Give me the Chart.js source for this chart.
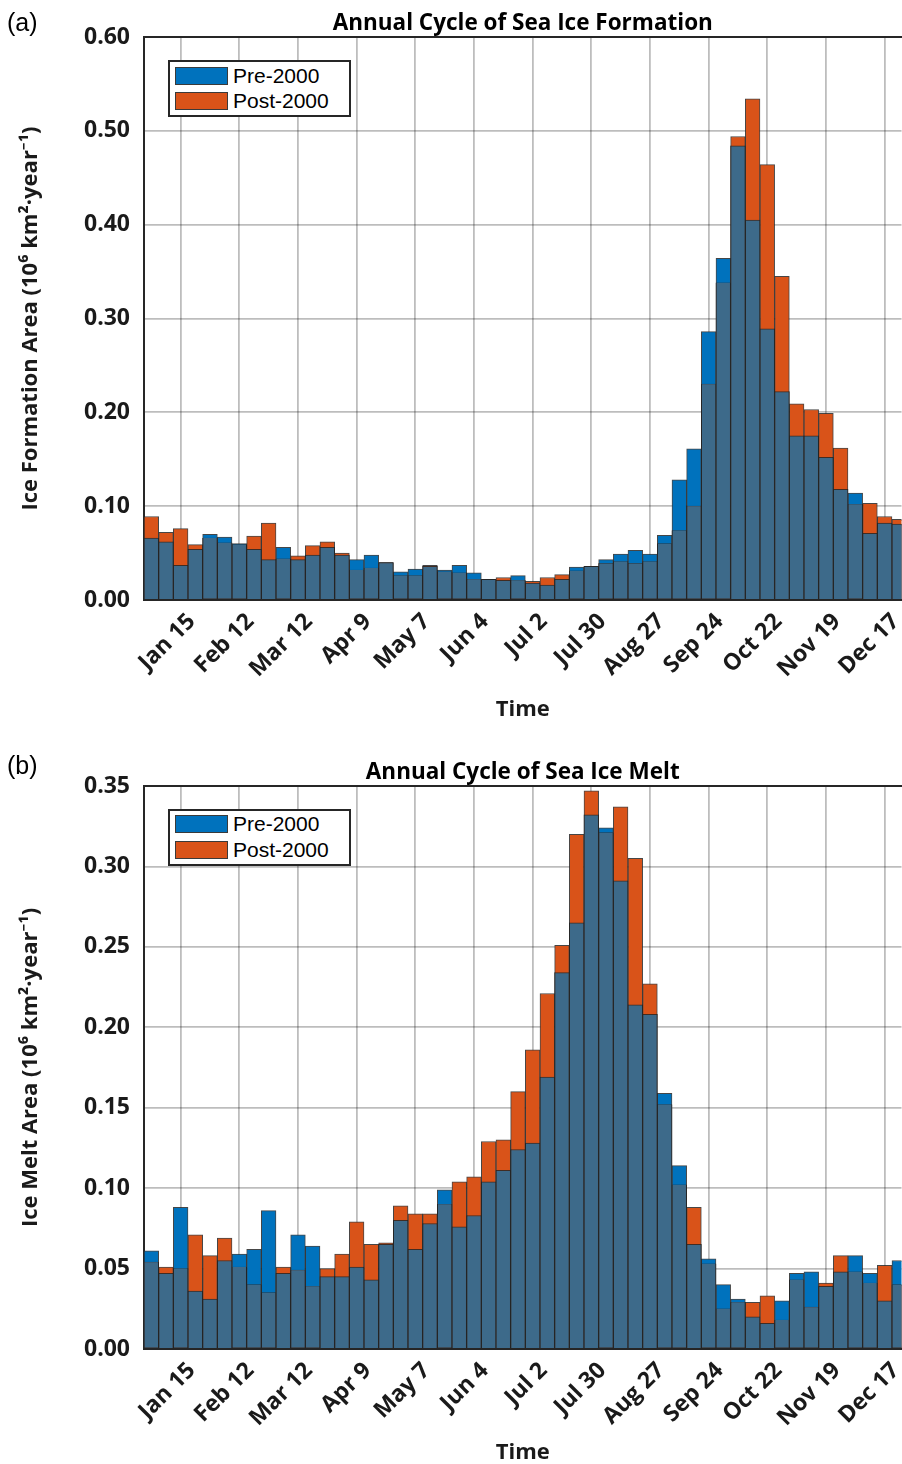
<!DOCTYPE html>
<html>
<head>
<meta charset="utf-8">
<title>Annual Cycle of Sea Ice</title>
<script src="https://cdn.jsdelivr.net/npm/chart.js@4.4.1/dist/chart.umd.min.js"></script>
<style>
  html, body { margin: 0; padding: 0; background: #fff; }
  body { width: 902px; height: 1464px; position: relative; overflow: hidden; }
  .panel { position: absolute; left: 0; width: 902px; height: 732px; }
  .tag { position: absolute; left: 7px; font: 25px/25px "Liberation Sans", Arial, sans-serif; color: #000; }
  .legend { position: absolute; left: 168px; width: 183px; height: 57px; box-sizing: border-box;
            border: 2px solid #262626; background: #fff; font: 21px "Liberation Sans", Arial, sans-serif; color: #000; }
  .item { position: absolute; left: 5px; height: 18px; line-height: 18px; white-space: nowrap; }
  .swatch { display: inline-block; width: 53px; height: 18px; box-sizing: border-box; border: 1px solid #3a3a3a;
            vertical-align: top; margin-right: 5px; }
</style>
</head>
<body>

<div class="panel" style="top:0">
  <canvas id="formation" width="902" height="732"></canvas>
  <div class="tag" style="top:10px">(a)</div>
  <div class="legend" style="top:60px">
    <div class="item" style="top:4.7px"><span class="swatch" style="background:#0072BD"></span>Pre-2000</div>
    <div class="item" style="top:30px"><span class="swatch" style="background:#D95319"></span>Post-2000</div>
  </div>
</div>

<div class="panel" style="top:732px">
  <canvas id="melt" width="902" height="732"></canvas>
  <div class="tag" style="top:21px">(b)</div>
  <div class="legend" style="top:76.7px">
    <div class="item" style="top:4.7px"><span class="swatch" style="background:#0072BD"></span>Pre-2000</div>
    <div class="item" style="top:30px"><span class="swatch" style="background:#D95319"></span>Post-2000</div>
  </div>
</div>

<script>
// week index of each labelled tick (week 0 = Jan 1)
const tickWeeks = [2, 6, 10, 14, 18, 22, 26, 30, 34, 38, 42, 46, 50];
const tickLabels = ['Jan 15', 'Feb 12', 'Mar 12', 'Apr 9', 'May 7', 'Jun 4', 'Jul 2',
                    'Jul 30', 'Aug 27', 'Sep 24', 'Oct 22', 'Nov 19', 'Dec 17'];

// weekly ice formation area, 10^6 km^2/year
const preFormation = [
  0.066, 0.062, 0.037, 0.054, 0.070, 0.067, 0.060, 0.054, 0.043, 0.056,
  0.043, 0.048, 0.056, 0.048, 0.043, 0.048, 0.040, 0.030, 0.033, 0.036,
  0.032, 0.037, 0.029, 0.022, 0.021, 0.026, 0.018, 0.016, 0.022, 0.035,
  0.036, 0.043, 0.049, 0.053, 0.049, 0.069, 0.128, 0.161, 0.286, 0.364,
  0.484, 0.405, 0.289, 0.222, 0.175, 0.175, 0.152, 0.118, 0.114, 0.071,
  0.082, 0.081
];
const postFormation = [
  0.089, 0.072, 0.076, 0.059, 0.066, 0.061, 0.059, 0.068, 0.082, 0.044,
  0.047, 0.058, 0.062, 0.050, 0.032, 0.034, 0.040, 0.026, 0.026, 0.037,
  0.030, 0.029, 0.022, 0.022, 0.024, 0.021, 0.020, 0.024, 0.027, 0.031,
  0.036, 0.039, 0.041, 0.039, 0.041, 0.060, 0.074, 0.100, 0.230, 0.338,
  0.494, 0.534, 0.464, 0.345, 0.209, 0.203, 0.199, 0.162, 0.102, 0.103,
  0.089, 0.086
];

// weekly ice melt area, 10^6 km^2/year
const preMelt = [
  0.061, 0.047, 0.088, 0.036, 0.031, 0.055, 0.059, 0.062, 0.086, 0.047,
  0.071, 0.064, 0.045, 0.045, 0.051, 0.043, 0.065, 0.080, 0.062, 0.078,
  0.099, 0.076, 0.083, 0.104, 0.111, 0.124, 0.128, 0.169, 0.234, 0.265,
  0.332, 0.324, 0.291, 0.214, 0.208, 0.159, 0.114, 0.065, 0.056, 0.040,
  0.031, 0.020, 0.016, 0.030, 0.047, 0.048, 0.039, 0.048, 0.058, 0.047,
  0.030, 0.055
];
const postMelt = [
  0.054, 0.051, 0.050, 0.071, 0.058, 0.069, 0.051, 0.040, 0.035, 0.051,
  0.049, 0.039, 0.050, 0.059, 0.079, 0.065, 0.066, 0.089, 0.084, 0.084,
  0.090, 0.104, 0.107, 0.129, 0.130, 0.160, 0.186, 0.221, 0.251, 0.320,
  0.347, 0.321, 0.337, 0.305, 0.227, 0.152, 0.102, 0.088, 0.053, 0.025,
  0.029, 0.029, 0.033, 0.018, 0.043, 0.026, 0.041, 0.058, 0.048, 0.041,
  0.052, 0.040
];

const BLUE = '#0072BD';
const ORANGE = '#D95319';
const SLATE = '#3D6A8A';      // where both periods overlap
const EDGE = 'rgba(38,38,38,0.85)';
const AXIS = '#262626';
const GRID = 'rgba(0,0,0,0.26)';
const FONT = "'Open Sans', 'Noto Sans', 'DejaVu Sans', sans-serif";

const X_MIN = -0.5, X_MAX = 51.15;

// keep the plot box where the reference has it
function noPad(s) {
  s.paddingLeft = 0; s.paddingRight = 0; s.paddingTop = 0; s.paddingBottom = 0;
}

function drawPanel(id, pre, post, o) {
  const weeks = pre.map((_, i) => i);
  const overlap = pre.map((v, i) => Math.min(v, post[i]));
  const bar = (label, data, color, order) => ({
    label, data, backgroundColor: color, borderColor: EDGE, borderWidth: 1, order, clip: 0
  });
  const both = bar('Overlap', overlap, SLATE, 0);
  // no dark line where the pre-2000 bar continues above the overlap
  both.borderSkipped = c => (pre[c.dataIndex] > post[c.dataIndex] ? 'top' : 'start');

  return new Chart(document.getElementById(id), {
    type: 'bar',
    data: {
      labels: weeks,
      datasets: [
        bar('Pre-2000', pre, BLUE, 2),
        bar('Post-2000', post, ORANGE, 1),
        both
      ]
    },
    options: {
      responsive: false,
      devicePixelRatio: 1,
      animation: false,
      events: [],
      layout: { padding: { left: 0, right: 0.5, top: 0, bottom: 0 } },
      datasets: { bar: { grouped: false, barPercentage: 1, categoryPercentage: 1 } },
      plugins: { legend: { display: false }, tooltip: { enabled: false }, title: { display: false } },
      scales: {
        x: {
          type: 'linear', min: X_MIN, max: X_MAX, offset: false,
          afterBuildTicks: s => { s.ticks = tickWeeks.map(v => ({ value: v })); },
          afterFit: s => { s.height = o.xHeight; noPad(s); },
          ticks: {
            autoSkip: false, minRotation: 45, maxRotation: 45,
            padding: 8, labelOffset: 11, color: '#1a1a1a',
            font: { family: FONT, size: 23, weight: 'bold', lineHeight: 1.2 },
            callback: (v, i) => tickLabels[i]
          },
          grid: { offset: false, drawTicks: false, color: GRID, lineWidth: 1.8 },
          border: { color: AXIS, width: 2 },
          title: {
            display: true, text: 'Time', color: '#1a1a1a',
            font: { family: FONT, size: 22, weight: 'bold', lineHeight: 1 },
            padding: { top: 0, bottom: o.timePad }
          }
        },
        top: {
          type: 'linear', position: 'top', min: X_MIN, max: X_MAX,
          afterFit: s => { s.height = o.top; noPad(s); },
          ticks: { display: false },
          grid: { display: false },
          border: { color: AXIS, width: 2 },
          title: {
            display: true, text: o.title, color: '#000',
            font: { family: FONT, size: 22.5, weight: 'bold', lineHeight: 1.2 },
            padding: { top: o.titlePad, bottom: 0 }
          }
        },
        y: {
          min: 0, max: o.yMax,
          afterFit: s => { s.width = 144; noPad(s); },
          ticks: {
            stepSize: o.yStep, padding: 14, color: '#1a1a1a',
            font: { family: FONT, size: 23, weight: 'bold' },
            callback: v => v.toFixed(2)
          },
          grid: { drawTicks: false, color: GRID, lineWidth: 1.8 },
          border: { color: AXIS, width: 2 },
          title: {
            display: true, text: o.yTitle, color: '#1a1a1a',
            font: { family: FONT, size: 22, weight: 'bold', lineHeight: 1 },
            padding: { top: 20, bottom: 0 }
          }
        }
      }
    }
  });
}

drawPanel('formation', preFormation, postFormation, {
  title: 'Annual Cycle of Sea Ice Formation',
  yTitle: 'Ice Formation Area (10⁶ km²·year⁻¹)',
  yMax: 0.6, yStep: 0.1,
  top: 37, titlePad: 10, xHeight: 132, timePad: 11
});

drawPanel('melt', preMelt, postMelt, {
  title: 'Annual Cycle of Sea Ice Melt',
  yTitle: 'Ice Melt Area (10⁶ km²·year⁻¹)',
  yMax: 0.35, yStep: 0.05,
  top: 54, titlePad: 27, xHeight: 115, timePad: 0
});
</script>
</body>
</html>
